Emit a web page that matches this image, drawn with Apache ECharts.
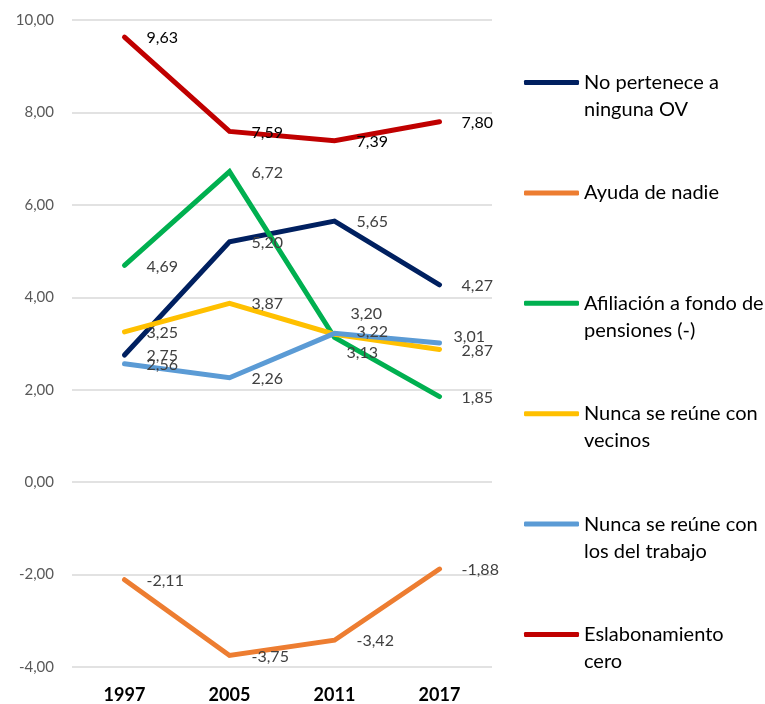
<!DOCTYPE html>
<html>
<head>
<meta charset="utf-8">
<script src="https://cdn.jsdelivr.net/npm/echarts@6/dist/echarts.min.js"></script>
<style>
  html, body { margin: 0; padding: 0; background: #fff; }
  #chart { width: 765px; height: 704px; }
</style>
</head>
<body>
<div id="chart"></div>
<script>
// datos
const years = ['1997', '2005', '2011', '2017'];
const seriesNames = [
  'No pertenece a ninguna OV',
  'Ayuda de nadie',
  'Afiliación a fondo de pensiones (-)',
  'Nunca se reúne con vecinos',
  'Nunca se reúne con los del trabajo',
  'Eslabonamiento cero'
];
const noPertenece = [2.75, 5.20, 5.65, 4.27];
const ayudaNadie = [-2.11, -3.75, -3.42, -1.88];
const afiliacion = [4.69, 6.72, 3.13, 1.85];
const nuncaVecinos = [3.25, 3.87, 3.20, 2.87];
const nuncaTrabajo = [2.56, 2.26, 3.22, 3.01];
const eslabonamiento = [9.63, 7.59, 7.39, 7.80];

// texto de la leyenda tal como se corta en el original
const legendText = {
  'No pertenece a ninguna OV': 'No pertenece a\nninguna OV',
  'Ayuda de nadie': 'Ayuda de nadie',
  'Afiliación a fondo de pensiones (-)': 'Afiliación a fondo de\npensiones (-)',
  'Nunca se reúne con vecinos': 'Nunca se reúne con\nvecinos',
  'Nunca se reúne con los del trabajo': 'Nunca se reúne con\nlos del trabajo',
  'Eslabonamiento cero': 'Eslabonamiento\ncero'
};

const FONT = 'Lato, "Open Sans", sans-serif';
const fmt = v => v.toFixed(2).replace('.', ',');

const chart = echarts.init(document.getElementById('chart'));

/** serie de línea con etiqueta a la derecha; moved = desplazamientos manuales de etiquetas */
function lineSeries(name, data, color, labelColor, moved) {
  moved = moved || {};
  return {
    name: name,
    type: 'line',
    data: data.map((v, i) => moved[i] ? { value: v, label: { offset: moved[i] } } : v),
    symbol: 'circle',
    symbolSize: 0,
    showSymbol: true,
    lineStyle: { width: 5, color: color, cap: 'round', join: 'miter' },
    itemStyle: { color: color },
    label: {
      show: true,
      position: 'right',
      distance: 22,
      offset: [0, 1],
      fontFamily: FONT,
      fontSize: 16,
      color: labelColor || '#404040',
      formatter: p => fmt(p.value)
    },
    emphasis: { disabled: true }
  };
}

const option = {
  animation: false,
  grid: { left: 72, top: 20, width: 420, height: 647, containLabel: false },
  legend: {
    orient: 'vertical',
    left: 524,
    top: 42,
    padding: 0,
    itemWidth: 55,
    itemHeight: 5,
    itemGap: 29.4,
    icon: 'roundRect',
    textStyle: { fontFamily: FONT, fontSize: 20, color: '#000', lineHeight: 27 },
    // una línea vacía arriba deja el icono a la altura de la primera línea
    formatter: name => {
      const t = legendText[name];
      return t.indexOf('\n') >= 0 ? '\n' + t : '\n' + t + '\n';
    },
    data: seriesNames
  },
  xAxis: {
    type: 'category',
    data: years,
    boundaryGap: true,
    axisLine: { show: false },
    axisTick: { show: false },
    axisLabel: { fontFamily: FONT, fontSize: 18, fontWeight: 'bold', color: '#000', margin: 19 }
  },
  yAxis: {
    type: 'value',
    min: -4,
    max: 10,
    interval: 2,
    axisLine: { show: false },
    axisTick: { show: false },
    splitLine: { lineStyle: { color: '#d9d9d9', width: 1.5 } },
    axisLabel: { fontFamily: FONT, fontSize: 15, color: '#595959', margin: 18, formatter: v => fmt(v) }
  },
  series: [
    lineSeries(seriesNames[0], noPertenece, '#002060'),
    lineSeries(seriesNames[1], ayudaNadie, '#ED7D31'),
    lineSeries(seriesNames[2], afiliacion, '#00B050', null, { 2: [-10, 15] }),
    lineSeries(seriesNames[3], nuncaVecinos, '#FFC000', null, { 2: [-6, -20] }),
    lineSeries(seriesNames[4], nuncaTrabajo, '#5B9BD5', null, { 2: [0, -1], 3: [-8, -6] }),
    lineSeries(seriesNames[5], eslabonamiento, '#C00000', '#000')
  ]
};

chart.setOption(option);
</script>
</body>
</html>
